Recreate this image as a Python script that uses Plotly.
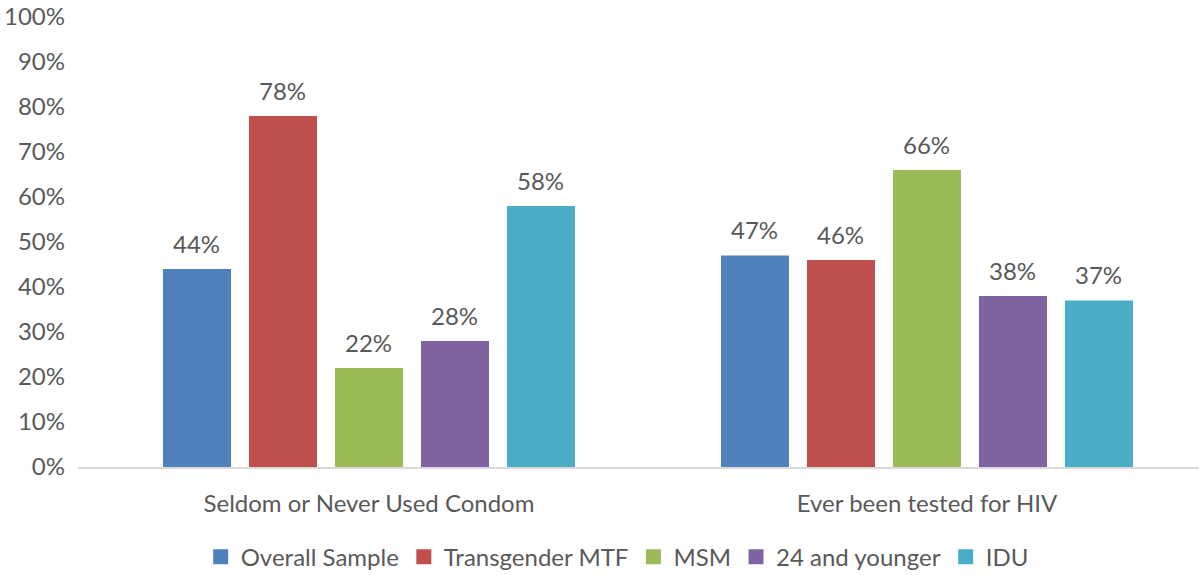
import plotly.graph_objects as go

categories = ["Seldom or Never Used Condom", "Ever been tested for HIV"]
series_names = ["Overall Sample", "Transgender MTF", "MSM", "24 and younger", "IDU"]
series_values = [
    [44, 47],
    [78, 46],
    [22, 66],
    [28, 38],
    [58, 37],
]
colors = ["#4F81BD", "#C0504D", "#9BBB59", "#8064A2", "#4BACC6"]
y_ticks = list(range(0, 101, 10))
y_tick_labels = [f"{t}%" for t in y_ticks]

FONT = "Lato, Open Sans, sans-serif"
TEXT = "#595959"
FS = 24

# bar slot width in px within a group
SLOT_PX = 86

fig = go.Figure()
for name, vals, col in zip(series_names, series_values, colors):
    fig.add_trace(go.Bar(
        name=name,
        x=categories,
        y=vals,
        marker=dict(color=col, line=dict(width=0)),
        legendgroup=name,
        showlegend=False,
    ))

# legend entries with larger square swatches
for name, col in zip(series_names, colors):
    fig.add_trace(go.Scatter(
        name=name,
        x=[None], y=[None],
        mode="markers",
        marker=dict(symbol="square", size=15, color=col),
        legendgroup=name,
        showlegend=True,
        hoverinfo="skip",
    ))

# value labels above each bar
annotations = []
for i, vals in enumerate(series_values):
    for cat, v in zip(categories, vals):
        annotations.append(dict(
            x=cat, y=v, xref="x", yref="y",
            text=f"{v}%",
            showarrow=False,
            xanchor="center", yanchor="middle",
            xshift=(i - 2) * SLOT_PX,
            yshift=26,
            font=dict(family=FONT, size=FS, color=TEXT),
        ))

fig.update_layout(
    width=1199,
    height=575,
    margin=dict(l=78, r=0, t=17, b=108, autoexpand=False),
    paper_bgcolor="white",
    plot_bgcolor="white",
    barmode="group",
    bargap=0.2294,
    bargroupgap=0.209,
    font=dict(family=FONT, size=FS, color=TEXT),
    annotations=annotations,
    showlegend=True,
    legend=dict(
        orientation="h",
        x=0.481, xanchor="center",
        yref="container",
        y=0.031, yanchor="middle",
        font=dict(family=FONT, size=FS, color=TEXT),
        itemwidth=30,
        itemsizing="trace",
        traceorder="normal",
    ),
)
fig.update_yaxes(
    range=[0, 100],
    tickvals=y_ticks,
    ticktext=y_tick_labels,
    showgrid=False,
    zeroline=False,
    showline=False,
    ticks="",
    ticklabelstandoff=12,
    tickfont=dict(family=FONT, size=FS, color=TEXT),
)
fig.update_xaxes(
    type="category",
    range=[-0.5215, 1.4875],
    showline=True,
    linecolor="#D9D9D9",
    linewidth=2,
    ticks="",
    ticklabelstandoff=14,
    tickfont=dict(family=FONT, size=FS, color=TEXT),
)

fig.write_html("out.html")
